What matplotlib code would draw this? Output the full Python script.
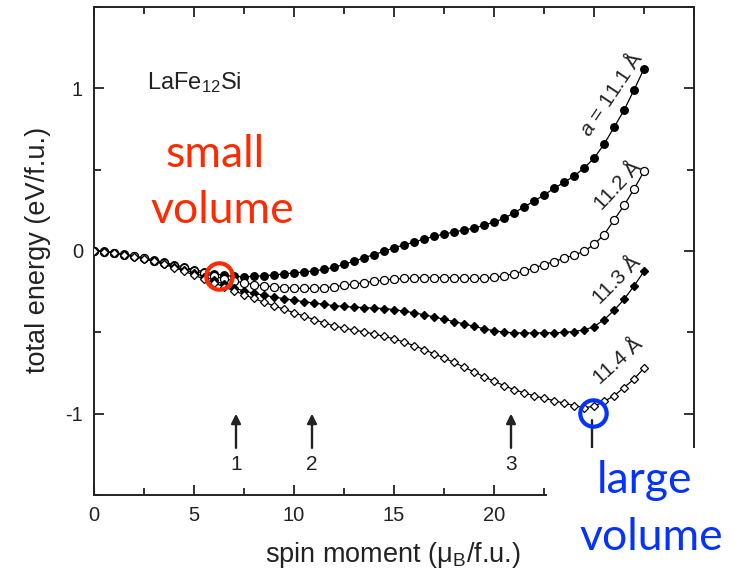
import matplotlib
matplotlib.use("Agg")
import matplotlib.pyplot as plt
from matplotlib.patches import Rectangle
from matplotlib.ticker import MultipleLocator

plt.rcParams["font.family"] = ["Liberation Sans", "DejaVu Sans"]
plt.rcParams["axes.unicode_minus"] = False
plt.rcParams["mathtext.fontset"] = "custom"
plt.rcParams["mathtext.it"] = "Liberation Sans:italic"
plt.rcParams["mathtext.rm"] = "Liberation Sans"

# spin moment grid (mu_B / f.u.)
spin = [0.0, 0.5, 1.0, 1.5, 2.0, 2.5, 3.0, 3.5, 4.0, 4.5, 5.0, 5.5, 6.0, 6.5,
        7.0, 7.5, 8.0, 8.5, 9.0, 9.5, 10.0, 10.5, 11.0, 11.5, 12.0, 12.5, 13.0,
        13.5, 14.0, 14.5, 15.0, 15.5, 16.0, 16.5, 17.0, 17.5, 18.0, 18.5, 19.0,
        19.5, 20.0, 20.5, 21.0, 21.5, 22.0, 22.5, 23.0, 23.5, 24.0, 24.5, 25.0,
        25.5, 26.0, 26.5, 27.0, 27.5]

# total energy (eV/f.u.) for each lattice constant
e_111 = [0.0, -0.003, -0.010, -0.019, -0.030, -0.042, -0.055, -0.069, -0.084,
         -0.099, -0.114, -0.128, -0.140, -0.150, -0.156, -0.158, -0.156, -0.152,
         -0.147, -0.141, -0.135, -0.129, -0.122, -0.113, -0.100, -0.082, -0.062,
         -0.042, -0.022, -0.002, 0.020, 0.037, 0.055, 0.073, 0.090, 0.104, 0.117,
         0.129, 0.141, 0.158, 0.178, 0.200, 0.235, 0.270, 0.307, 0.344, 0.385,
         0.422, 0.460, 0.510, 0.570, 0.656, 0.760, 0.865, 0.990, 1.120]
e_112 = [0.0, -0.004, -0.012, -0.022, -0.033, -0.046, -0.060, -0.075, -0.090,
         -0.106, -0.122, -0.138, -0.155, -0.170, -0.184, -0.196, -0.206, -0.214,
         -0.220, -0.225, -0.228, -0.230, -0.229, -0.226, -0.220, -0.212, -0.203,
         -0.195, -0.186, -0.178, -0.173, -0.169, -0.166, -0.164, -0.163, -0.163,
         -0.165, -0.167, -0.169, -0.168, -0.162, -0.153, -0.140, -0.123, -0.104,
         -0.084, -0.065, -0.045, -0.025, -0.002, 0.040, 0.100, 0.190, 0.280,
         0.380, 0.490]
e_113 = [0.0, -0.004, -0.012, -0.022, -0.034, -0.047, -0.062, -0.078, -0.096,
         -0.115, -0.135, -0.157, -0.180, -0.205, -0.228, -0.245, -0.260, -0.272,
         -0.283, -0.293, -0.302, -0.312, -0.320, -0.328, -0.336, -0.341, -0.345,
         -0.348, -0.351, -0.354, -0.360, -0.370, -0.380, -0.392, -0.405, -0.420,
         -0.434, -0.448, -0.463, -0.478, -0.490, -0.499, -0.503, -0.504, -0.504,
         -0.503, -0.503, -0.500, -0.495, -0.485, -0.465, -0.423, -0.365, -0.298,
         -0.215, -0.125]
e_114 = [0.0, -0.004, -0.012, -0.022, -0.034, -0.048, -0.064, -0.082, -0.102,
         -0.124, -0.148, -0.172, -0.196, -0.220, -0.245, -0.268, -0.292, -0.315,
         -0.337, -0.358, -0.380, -0.400, -0.422, -0.442, -0.460, -0.474, -0.486,
         -0.497, -0.510, -0.525, -0.540, -0.560, -0.582, -0.606, -0.632, -0.658,
         -0.685, -0.714, -0.743, -0.773, -0.800, -0.828, -0.852, -0.872, -0.890,
         -0.905, -0.920, -0.935, -0.950, -0.963, -0.955, -0.925, -0.890, -0.840,
         -0.787, -0.720]

curve_labels = [r"$a$ = 11.1 Å", "11.2 Å", "11.3 Å", "11.4 Å"]
label_pos = [(25.8, 0.97, 56), (26.2, 0.40, 47), (26.15, -0.18, 45), (26.2, -0.68, 42)]

x_ticks = [0, 5, 10, 15, 20, 25, 30]
x_ticklabels = ["0", "5", "10", "15", "20", "", ""]

# marked spin moments
arrow_x = [7.1, 10.9, 20.85]
arrow_txt = ["1", "2", "3"]

# circled minima: (spin, energy)
small_min = (6.25, -0.153)
large_min = (24.95, -0.994)

fig = plt.figure(figsize=(7.35, 5.79), dpi=100)
ax = fig.add_axes([94 / 735, 1 - 495 / 579, 600 / 735, 488 / 579])

dark = "#222222"
common = dict(color="black", linewidth=0.9, zorder=3)
ax.plot(spin, e_111, marker="o", markersize=5.4, markerfacecolor="black",
        markeredgecolor="black", **common)
ax.plot(spin, e_112, marker="o", markersize=5.8, markerfacecolor="white",
        markeredgecolor="black", markeredgewidth=0.9, **common)
ax.plot(spin, e_113, marker="D", markersize=4.5, markerfacecolor="black",
        markeredgecolor="black", **common)
ax.plot(spin, e_114, marker="D", markersize=4.5, markerfacecolor="white",
        markeredgecolor="black", markeredgewidth=0.9, **common)

for txt, (lx, ly, rot) in zip(curve_labels, label_pos):
    ax.text(lx, ly, txt, rotation=rot, ha="center", va="center",
            fontsize=15, color=dark, rotation_mode="anchor")

for xv, t in zip(arrow_x, arrow_txt):
    ax.annotate("", xy=(xv, -1.0), xytext=(xv, -1.21),
                arrowprops=dict(arrowstyle="-|>", color=dark, lw=1.7,
                                mutation_scale=14, shrinkA=0, shrinkB=0))
    ax.text(xv, -1.31, t, ha="center", va="center", fontsize=15, color=dark)

ax.annotate("", xy=(large_min[0] - 0.05, -1.04), xytext=(large_min[0] - 0.05, -1.3),
            arrowprops=dict(arrowstyle="-", color=dark, lw=1.7, shrinkA=0, shrinkB=0))

ax.plot(*small_min, marker="o", markersize=19, markerfacecolor="none",
        markeredgecolor="#ff2a00", markeredgewidth=3.0, zorder=5)
ax.plot(*large_min, marker="o", markersize=19, markerfacecolor="none",
        markeredgecolor="#0433ff", markeredgewidth=3.0, zorder=5)

ax.text(2.65, 0.994, r"LaFe$_\mathregular{12}$Si",
        fontsize=17, color=dark, va="baseline", ha="left")

ax.set_xlim(0, 30)
ax.set_ylim(-1.5, 1.5)
ax.set_xticks(x_ticks, labels=x_ticklabels)
ax.xaxis.set_minor_locator(MultipleLocator(2.5))
ax.yaxis.set_major_locator(MultipleLocator(1))
ax.yaxis.set_minor_locator(MultipleLocator(0.5))
ax.tick_params(which="both", direction="in", top=True, right=True,
               color=dark, width=1.3, labelsize=14.5, labelcolor=dark, pad=8)
ax.tick_params(which="major", length=7)
ax.tick_params(which="minor", length=5)
for s in ax.spines.values():
    s.set_linewidth(1.4)
    s.set_color(dark)

fig.text(38 / 735, 1 - 250 / 579, "total energy (eV/f.u.)", rotation=90,
         ha="center", va="center", fontsize=19.5, color=dark)
fig.text(393 / 735, 1 - 555 / 579, r"spin moment (μ$_\mathregular{B}$/f.u.)",
         ha="center", va="center", fontsize=19.5, color=dark)

# white panel in the lower right corner carrying the blue note
fig.add_artist(Rectangle((547 / 735, 0), 1 - 547 / 735, 1 - 448 / 579,
                         transform=fig.transFigure, facecolor="white",
                         edgecolor="none", zorder=5))

note = dict(ha="center", va="baseline", fontsize=32, family=["Lato", "DejaVu Sans"], zorder=6)
fig.text(215 / 735, 1 - 167 / 579, "small", color="#ff2a00", **note)
fig.text(222 / 735, 1 - 223 / 579, "volume", color="#ff2a00", **note)
fig.text(645 / 735, 1 - 493 / 579, "large", color="#0433ff", **note)
fig.text(651 / 735, 1 - 550 / 579, "volume", color="#0433ff", **note)

fig.savefig("out.png", dpi=100)
